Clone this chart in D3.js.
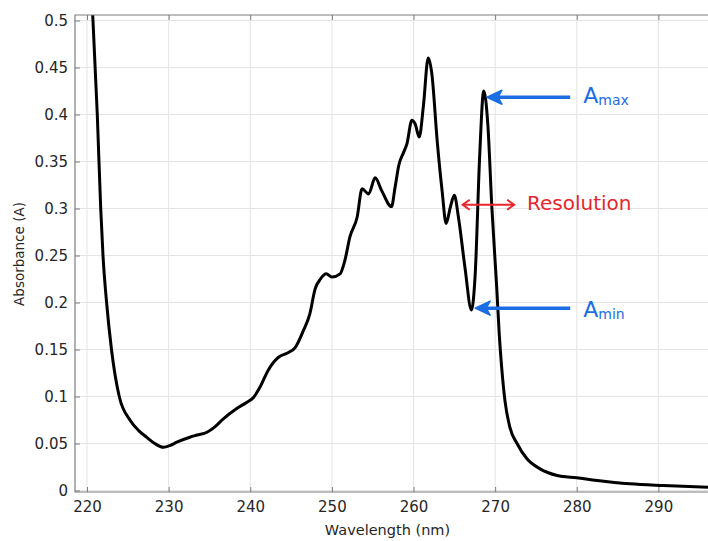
<!DOCTYPE html>
<html>
<head>
<meta charset="utf-8">
<script src="https://cdn.jsdelivr.net/npm/d3@7"></script>
<style>
  html, body { margin: 0; padding: 0; background: #fff; }
  svg { display: block; font-family: "DejaVu Sans", sans-serif; }
</style>
</head>
<body>
<svg id="chart" width="708" height="541"></svg>
<script>
// spectrum
const wavelength = [220.6, 221.26, 221.68, 221.96, 222.4, 223.0, 223.95, 225.3, 226.3, 227.3, 228.3, 229.35,
  230.2, 231.0, 232.6, 233.5, 234.7, 235.7, 236.7, 238.3, 239.6, 240.4, 241.2, 242.2, 243.5, 244.5,
  245.5, 246.5, 247.3, 247.95, 248.6, 249.3, 250.0, 251.0, 251.6, 252.2, 253.1, 253.7, 254.5, 255.3,
  256.1, 257.3, 257.75, 258.2, 258.8, 259.2, 259.8, 260.2, 260.7, 261.2, 261.8, 262.25, 262.9, 263.5,
  264.0, 264.5, 265.0, 265.5, 266.3, 267.1, 267.56, 268.1, 268.6, 269.1, 269.6, 270.2, 270.5, 270.8,
  271.2, 271.8, 272.7, 273.9, 275.5, 277.6, 280, 282.5, 286.5, 290.6, 296.2];
const absorbance = [0.525, 0.40, 0.30, 0.25, 0.20, 0.15, 0.10, 0.0745, 0.064, 0.0567, 0.050, 0.046,
  0.048, 0.0514, 0.0567, 0.059, 0.062, 0.068, 0.0762, 0.087, 0.094, 0.099, 0.11, 0.128, 0.142, 0.146,
  0.152, 0.170, 0.188, 0.2145, 0.225, 0.2305, 0.227, 0.2305, 0.245, 0.2695, 0.291, 0.321, 0.3155, 0.3326,
  0.319, 0.302, 0.323, 0.346, 0.36, 0.369, 0.394, 0.390, 0.376, 0.408, 0.46, 0.443, 0.372, 0.319,
  0.284, 0.301, 0.314, 0.291, 0.2375, 0.192, 0.2305, 0.3546, 0.425, 0.39, 0.301, 0.215, 0.1667, 0.131,
  0.0957, 0.0674, 0.0497, 0.0337, 0.023, 0.016, 0.0135, 0.0106, 0.0071, 0.0053, 0.0035];

const xTicks = [220, 230, 240, 250, 260, 270, 280, 290];
const yTicks = [0, 0.05, 0.1, 0.15, 0.2, 0.25, 0.3, 0.35, 0.4, 0.45, 0.5];

// annotations in data units
const blueArrows = [
  { from: 279.2, to: 269.0, y: 0.4184, label: "A", sub: "max", labelX: 280.8, labelY: 0.412 },
  { from: 279.2, to: 267.55, y: 0.194, label: "A", sub: "min", labelX: 280.8, labelY: 0.185 }
];
const resolutionArrow = { from: 265.9, to: 272.45, y: 0.304, label: "Resolution", labelX: 273.9, labelY: 0.2985 };

const svg = d3.select("#chart");
const plotLeft = 75, plotRight = 709, plotTop = 15, plotBottom = 492;

const x = d3.scaleLinear().domain([218.53, 296.2]).range([plotLeft, plotRight]);
const y = d3.scaleLinear().domain([0, 0.5]).range([490.5, 20.5]);

const axisColor = "#7d7d7d";
const gridColor = "#e4e4e4";

// grid
svg.append("g")
  .selectAll("line")
  .data(xTicks)
  .join("line")
  .attr("x1", d => x(d)).attr("x2", d => x(d))
  .attr("y1", plotTop).attr("y2", plotBottom)
  .attr("stroke", gridColor).attr("stroke-width", 1);
svg.append("g")
  .selectAll("line")
  .data(yTicks)
  .join("line")
  .attr("x1", plotLeft).attr("x2", plotRight)
  .attr("y1", d => y(d)).attr("y2", d => y(d))
  .attr("stroke", gridColor).attr("stroke-width", 1);

// curve
svg.append("clipPath").attr("id", "clip")
  .append("rect").attr("x", plotLeft).attr("y", plotTop)
  .attr("width", plotRight - plotLeft).attr("height", plotBottom - plotTop);

const pts = wavelength.map((w, i) => [w, absorbance[i]]);
const line = d3.line()
  .x(d => x(d[0]))
  .y(d => y(d[1]))
  .curve(d3.curveMonotoneX);

svg.append("path")
  .datum(pts)
  .attr("clip-path", "url(#clip)")
  .attr("d", line)
  .attr("fill", "none")
  .attr("stroke", "#000")
  .attr("stroke-width", 3)
  .attr("stroke-linejoin", "round");

// axes
const styleAxis = g => {
  g.select(".domain").remove();
  g.selectAll(".tick line").attr("stroke", axisColor);
  g.selectAll(".tick text").attr("fill", "#262626").style("font-size", "15px")
    .style("font-family", "'DejaVu Sans', sans-serif");
};

svg.append("g")
  .attr("transform", `translate(${plotLeft},0)`)
  .call(d3.axisLeft(y).tickValues(yTicks).tickFormat(d => String(d)).tickSize(-5).tickPadding(7))
  .call(styleAxis);

svg.append("g")
  .attr("transform", `translate(0,${plotBottom})`)
  .call(d3.axisBottom(x).tickValues(xTicks).tickFormat(d => String(d)).tickSize(-5).tickPadding(9))
  .call(styleAxis);

svg.append("g")
  .attr("transform", `translate(0,${plotTop})`)
  .call(d3.axisTop(x).tickValues(xTicks).tickFormat("").tickSize(-5))
  .call(styleAxis);

// frame
svg.append("path")
  .attr("d", `M${plotRight},${plotTop}H${plotLeft}V${plotBottom}H${plotRight}`)
  .attr("fill", "none")
  .attr("stroke", axisColor)
  .attr("stroke-width", 1.2);

// axis titles
svg.append("text")
  .attr("x", (plotLeft + 708) / 2 - 4)
  .attr("y", 535)
  .attr("text-anchor", "middle")
  .attr("fill", "#262626")
  .style("font-size", "14.5px")
  .text("Wavelength (nm)");

svg.append("text")
  .attr("transform", "translate(24,254) rotate(-90)")
  .attr("text-anchor", "middle")
  .attr("fill", "#262626")
  .style("font-size", "13.5px")
  .text("Absorbance (A)");

// annotations
const blue = "#1a6de3";
const red = "#e8262b";

blueArrows.forEach(a => {
  const x1 = x(a.from), x2 = x(a.to), yy = y(a.y);
  svg.append("line")
    .attr("x1", x1).attr("x2", x2 + 10)
    .attr("y1", yy).attr("y2", yy)
    .attr("stroke", blue).attr("stroke-width", 3.5);
  svg.append("path")
    .attr("d", `M${x2},${yy}L${x2 + 15},${yy - 7}L${x2 + 11},${yy}L${x2 + 15},${yy + 7}Z`)
    .attr("fill", blue).attr("stroke", blue).attr("stroke-width", 1.5)
    .attr("stroke-linejoin", "round");
  const t = svg.append("text")
    .attr("x", x(a.labelX))
    .attr("y", y(a.labelY))
    .attr("fill", blue)
    .style("font-size", "22px");
  t.append("tspan").text(a.label);
  t.append("tspan").attr("dy", 2).style("font-size", "14px").text(a.sub);
});

{
  const r = resolutionArrow;
  const x1 = x(r.from), x2 = x(r.to), yy = y(r.y);
  svg.append("line")
    .attr("x1", x1 + 1).attr("x2", x2 - 1)
    .attr("y1", yy).attr("y2", yy)
    .attr("stroke", red).attr("stroke-width", 2);
  svg.append("path")
    .attr("d", `M${x1 + 8},${yy - 5}L${x1 + 1},${yy}L${x1 + 8},${yy + 5}M${x2 - 8},${yy - 5}L${x2 - 1},${yy}L${x2 - 8},${yy + 5}`)
    .attr("fill", "none").attr("stroke", red).attr("stroke-width", 2);
  svg.append("text")
    .attr("x", x(r.labelX))
    .attr("y", y(r.labelY))
    .attr("fill", red)
    .style("font-size", "20px")
    .text(r.label);
}
</script>
</body>
</html>
